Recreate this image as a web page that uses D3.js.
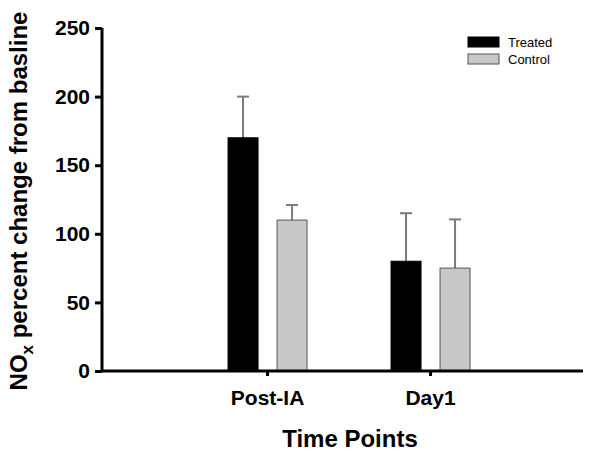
<!DOCTYPE html>
<html><head><meta charset="utf-8">
<script src="https://cdn.jsdelivr.net/npm/d3@7"></script>
<style>body{margin:0;background:#fff}svg{display:block;font-family:Arial,"Liberation Sans",sans-serif}</style>
</head><body><svg id="c" width="604" height="458"></svg>
<script>
const categories = ["Post-IA", "Day1"];
const series = ["Treated", "Control"];
const treatedValues = [170, 80];
const treatedErrors = [30, 35];
const controlValues = [110, 75];
const controlErrors = [11, 35.5];
const yTicks = [0, 50, 100, 150, 200, 250];

const colors = {Treated: "#000000", Control: "#c8c8c8"};
const svg = d3.select("#c");
const x0 = 102, x1 = 583, yTop = 28, yBot = 371;

const y = d3.scaleLinear().domain([0, 250]).range([yBot, yTop]);
const x = d3.scalePoint().domain(categories).range([x0, x1]).padding(0.9755).align(0.519);
const xs = d3.scaleBand().domain(series).range([-39, 40]).paddingInner(0.388).paddingOuter(0);

const data = [];
categories.forEach((c, i) => {
  data.push({cat: c, s: "Treated", v: treatedValues[i], e: treatedErrors[i]});
  data.push({cat: c, s: "Control", v: controlValues[i], e: controlErrors[i]});
});

// error bars
const eb = svg.append("g").attr("stroke", "#7a7a7a").attr("stroke-width", 2);
data.forEach(d => {
  const cx = x(d.cat) + xs(d.s) + xs.bandwidth() / 2;
  eb.append("line").attr("x1", cx).attr("x2", cx).attr("y1", y(d.v)).attr("y2", y(d.v + d.e));
  eb.append("line").attr("x1", cx - 6).attr("x2", cx + 6).attr("y1", y(d.v + d.e)).attr("y2", y(d.v + d.e));
});

// bars
svg.append("g").selectAll("rect").data(data).join("rect")
  .attr("x", d => x(d.cat) + xs(d.s))
  .attr("width", xs.bandwidth())
  .attr("y", d => y(d.v))
  .attr("height", d => y(0) - y(d.v))
  .attr("fill", d => colors[d.s])
  .attr("stroke", d => d.s === "Control" ? "#555" : "#000")
  .attr("stroke-width", 1);

// y axis
const ya = svg.append("g").attr("transform", `translate(${x0},0)`)
  .call(d3.axisLeft(y).tickValues(yTicks).tickSize(7).tickPadding(5));
ya.select(".domain").attr("stroke-width", 3).attr("d", `M0,${yTop}V${yBot}`);
ya.selectAll(".tick line").attr("stroke-width", 3);
ya.selectAll(".tick text").attr("font-size", 21).attr("font-weight", "bold").attr("fill", "#000")
  .attr("font-family", "Arial, 'Liberation Sans', sans-serif");

// x axis
const xa = svg.append("g").attr("transform", `translate(0,${yBot})`)
  .call(d3.axisBottom(x).tickSize(5).tickPadding(14));
xa.select(".domain").attr("stroke-width", 3).attr("d", `M${x0},0H${x1}`);
xa.selectAll(".tick line").attr("stroke-width", 3);
xa.selectAll(".tick text").attr("font-size", 21).attr("font-weight", "bold").attr("fill", "#000")
  .attr("font-family", "Arial, 'Liberation Sans', sans-serif");

// axis titles
svg.append("text").attr("x", 350).attr("y", 447).attr("text-anchor", "middle")
  .attr("font-size", 24).attr("font-weight", "bold").text("Time Points");

const yl = svg.append("text").attr("transform", `translate(27,201) rotate(-90)`)
  .attr("text-anchor", "middle").attr("font-size", 24).attr("font-weight", "bold");
yl.append("tspan").text("NO");
yl.append("tspan").attr("font-size", 17).attr("dy", 6).text("x");
yl.append("tspan").attr("dy", -6).text(" percent change from basline");

// legend
const lg = svg.append("g").attr("transform", "translate(468,37)");
series.forEach((s, i) => {
  lg.append("rect").attr("x", 0).attr("y", i * 17).attr("width", 31).attr("height", 10)
    .attr("fill", colors[s]).attr("stroke", s === "Control" ? "#555" : "#000");
  lg.append("text").attr("x", 40).attr("y", i * 17 + 10).attr("font-size", 13).text(s);
});
</script></body></html>
